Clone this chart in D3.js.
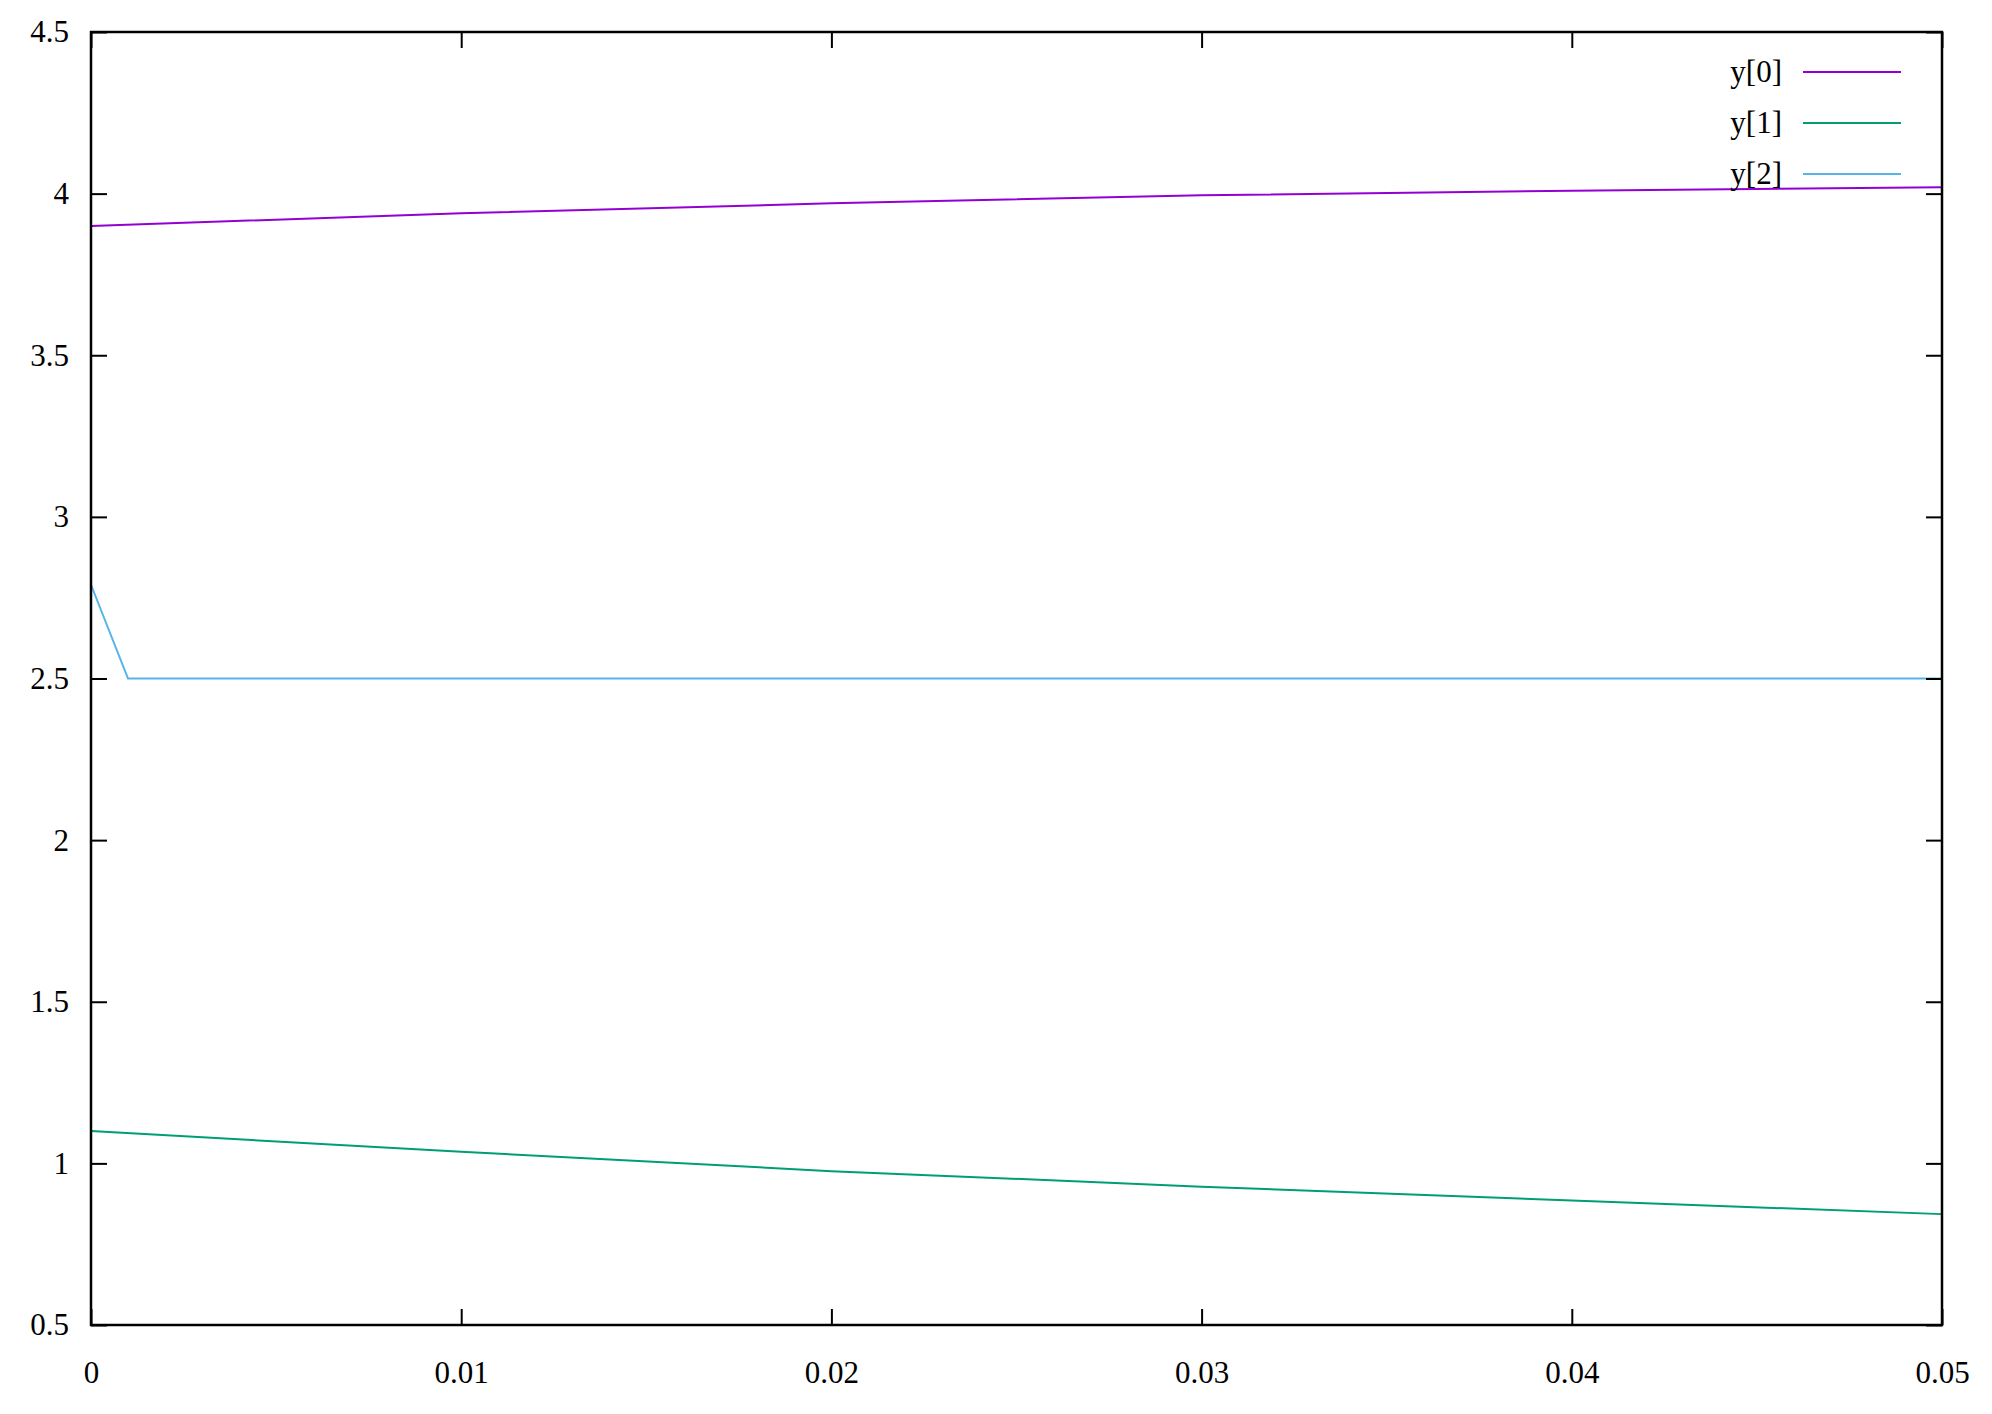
<!DOCTYPE html>
<html>
<head>
<meta charset="utf-8">
<script src="https://cdn.jsdelivr.net/npm/d3@7"></script>
<style>
  body { margin: 0; background: #fff; }
  text { font-family: "Liberation Serif", "Times New Roman", serif; font-size: 31px; fill: #000; }
</style>
</head>
<body>
<svg id="chart" width="1992" height="1414"></svg>
<script>
// values
const xs = [0, 0.01, 0.02, 0.03, 0.04, 0.05];
const y0 = [3.90, 3.939, 3.970, 3.995, 4.009, 4.020];
const y1 = [1.10, 1.036, 0.976, 0.928, 0.885, 0.843];
const xs2 = [0, 0.001, 0.05];
const y2 = [2.79, 2.5, 2.5];

const xTicks = [0, 0.01, 0.02, 0.03, 0.04, 0.05];
const yTicks = [0.5, 1, 1.5, 2, 2.5, 3, 3.5, 4, 4.5];

const series = [
  { name: 'y[0]', color: '#9400d3', x: xs, y: y0 },
  { name: 'y[1]', color: '#009e73', x: xs, y: y1 },
  { name: 'y[2]', color: '#56b4e9', x: xs2, y: y2 }
];

const svg = d3.select('#chart');
const margin = { left: 91, right: 50, top: 32, bottom: 89 };
const width = +svg.attr('width');
const height = +svg.attr('height');
const innerWidth = width - margin.left - margin.right;
const innerHeight = height - margin.top - margin.bottom;

const xScale = d3.scaleLinear().domain([0, 0.05]).range([0, innerWidth]);
const yScale = d3.scaleLinear().domain([0.5, 4.5]).range([innerHeight, 0]);

const g = svg.append('g').attr('transform', `translate(${margin.left},${margin.top})`);

// lines
const line = d3.line().x(d => xScale(d[0])).y(d => yScale(d[1]));
series.forEach(s => {
  g.append('path')
    .datum(s.x.map((x, i) => [x, s.y[i]]))
    .attr('fill', 'none')
    .attr('stroke', s.color)
    .attr('stroke-width', 2)
    .attr('d', line);
});

// axes, ticks pointing inward on all four sides
const tickLen = 16;
const styleAxis = sel => {
  sel.attr('font-size', null).attr('font-family', null);
  sel.selectAll('.domain').remove();
  sel.selectAll('line').attr('stroke', '#000').attr('stroke-width', 2);
};

const xAxisG = g.append('g')
  .attr('transform', `translate(0,${innerHeight})`)
  .call(d3.axisBottom(xScale).tickValues(xTicks).tickFormat(d => d3.format('')(d))
    .tickSizeInner(-tickLen).tickSizeOuter(0))
  .call(styleAxis);
// place labels by baseline instead of the default dy
xAxisG.selectAll('text').attr('y', 58).attr('dy', null);

g.append('g')
  .call(d3.axisTop(xScale).tickValues(xTicks).tickFormat('')
    .tickSizeInner(-tickLen).tickSizeOuter(0))
  .call(styleAxis);

g.append('g')
  .call(d3.axisLeft(yScale).tickValues(yTicks).tickFormat(d => d3.format('')(d))
    .tickSizeInner(-tickLen).tickSizeOuter(0).tickPadding(22))
  .call(styleAxis);

g.append('g')
  .attr('transform', `translate(${innerWidth},0)`)
  .call(d3.axisRight(yScale).tickValues(yTicks).tickFormat('')
    .tickSizeInner(-tickLen).tickSizeOuter(0))
  .call(styleAxis);

// frame
g.append('rect')
  .attr('width', innerWidth)
  .attr('height', innerHeight)
  .attr('fill', 'none')
  .attr('stroke', '#000')
  .attr('stroke-width', 2.5);

// legend
const legend = g.append('g').attr('transform', `translate(${innerWidth},0)`);
series.forEach((s, i) => {
  const yy = 40 + i * 51;
  legend.append('text')
    .attr('x', -160)
    .attr('y', yy)
    .attr('dy', '0.33em')
    .attr('text-anchor', 'end')
    .text(s.name);
  legend.append('line')
    .attr('x1', -139).attr('x2', -41)
    .attr('y1', yy).attr('y2', yy)
    .attr('stroke', s.color)
    .attr('stroke-width', 2);
});
</script>
</body>
</html>
